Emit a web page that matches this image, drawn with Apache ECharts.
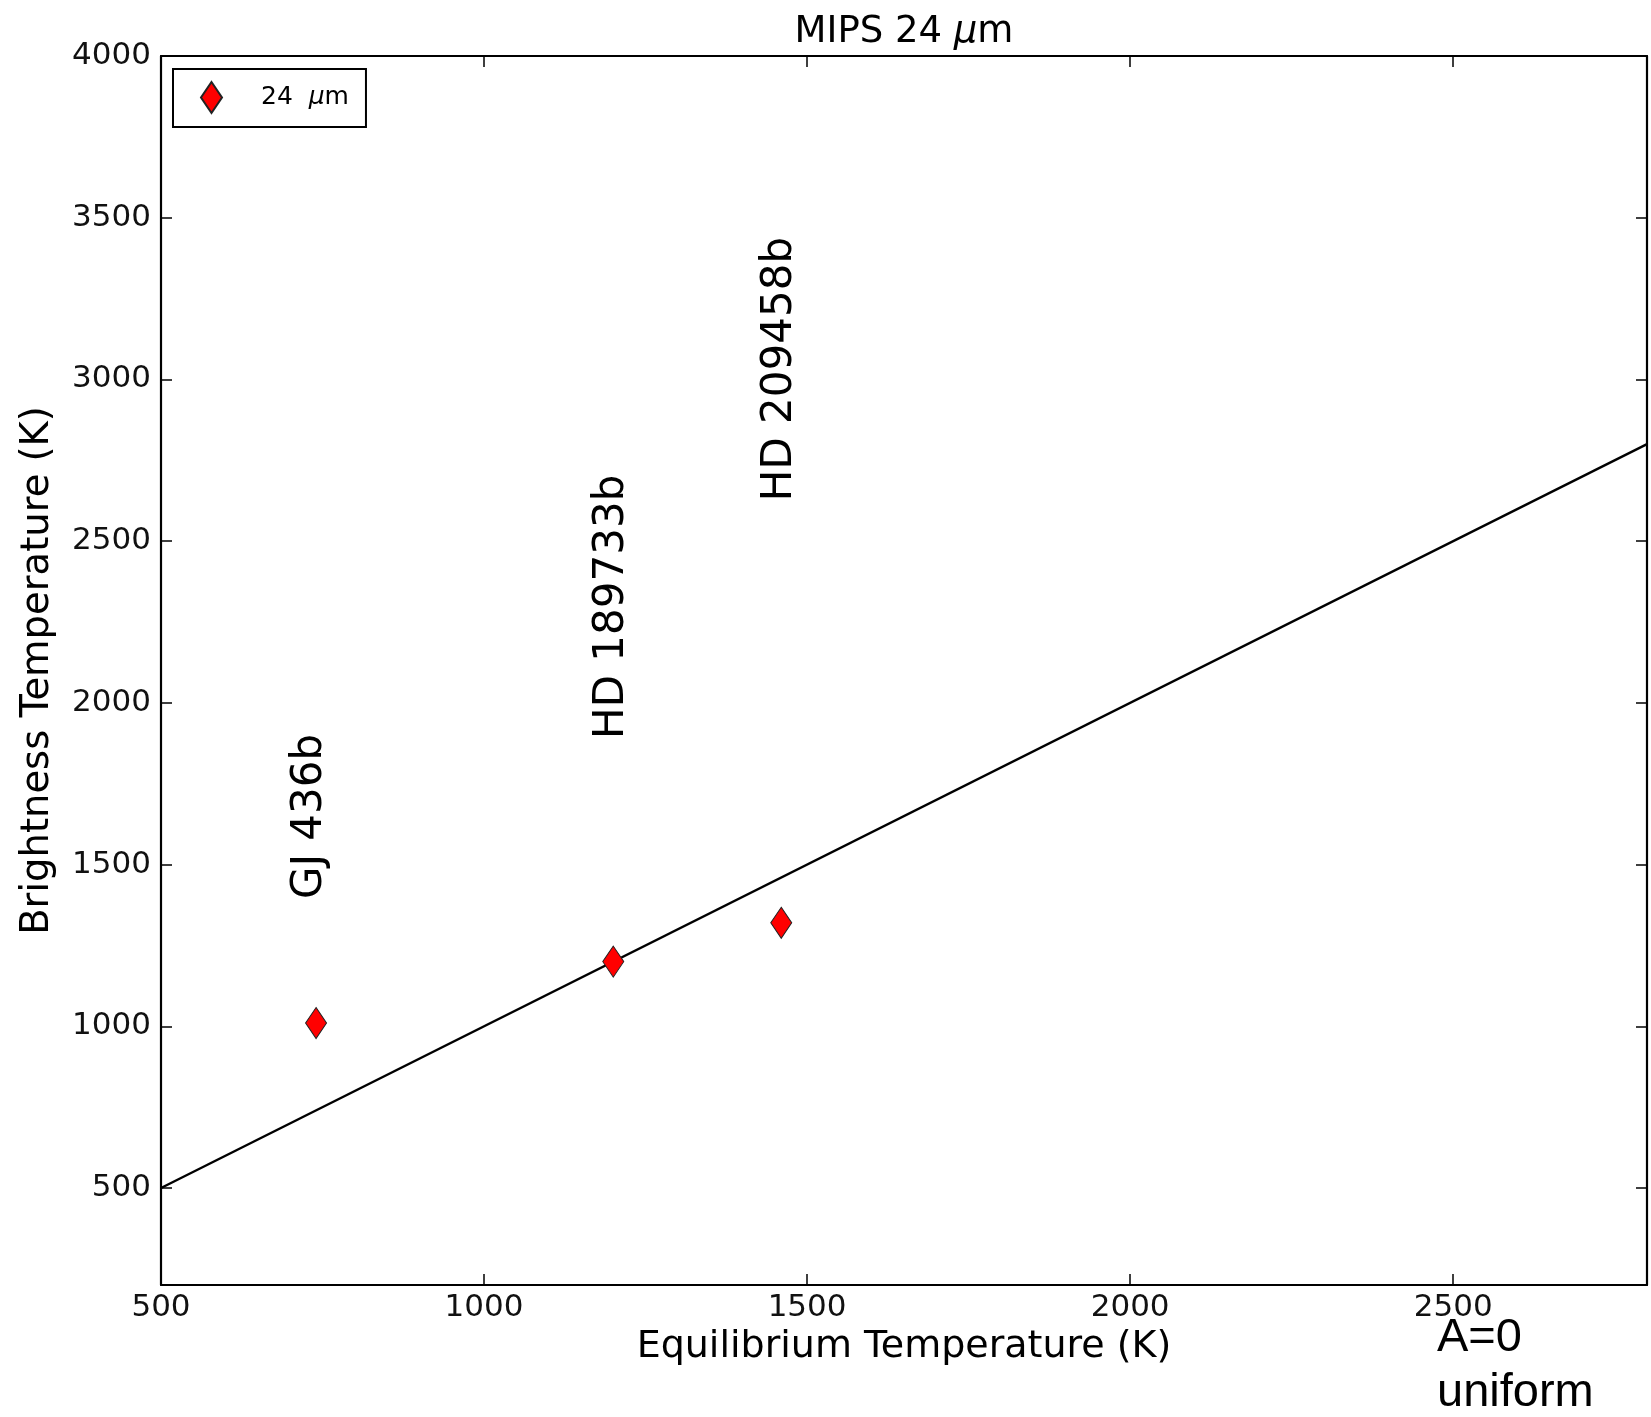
<!DOCTYPE html>
<html>
<head>
<meta charset="utf-8">
<script src="https://cdn.jsdelivr.net/npm/echarts@6/dist/echarts.min.js"></script>
<style>
  html, body { margin: 0; padding: 0; background: #fff; }
  #chart { width: 1651px; height: 1417px; }
</style>
</head>
<body>
<div id="chart"></div>
<script>
// ---- data ----
const planetNames = ['GJ 436b', 'HD 189733b', 'HD 209458b'];
const eqTemp = [740, 1200, 1460];          // Equilibrium temperature (K)
const brightTemp = [1010, 1200, 1320];     // Brightness temperature at 24 um (K)
const labelX = [731, 1198, 1458];          // label anchor (data units)
const labelY = [1649, 2297, 3032];
const lineX = [500, 2800];                 // A=0 uniform line: Tb = Teq
const lineY = [500, 2800];
const xTicks = [500, 1000, 1500, 2000, 2500];
const yTicks = [500, 1000, 1500, 2000, 2500, 3000, 3500, 4000];
const xRange = [500, 2800];
const yRange = [200, 4000];

const FONT = 'DejaVu Sans';
const INK = '#000';

const scatterData = eqTemp.map((x, i) => [x, brightTemp[i]]);
const labelData = labelX.map((x, i) => ({ value: [x, labelY[i]], name: planetNames[i] }));
const lineData = lineX.map((x, i) => [x, lineY[i]]);

const axisCommon = {
  type: 'value',
  axisLine: { show: true, onZero: false, lineStyle: { color: INK, width: 2.2 } },
  splitLine: { show: false },
};
const plain = v => String(v);

const chart = echarts.init(document.getElementById('chart'), null, { renderer: 'canvas' });
chart.setOption({
  backgroundColor: '#fff',
  animation: false,
  title: {
    text: '{n|MIPS 24 }{i|μ}{n|m}',
    left: 904,
    textAlign: 'center',
    top: 14,
    padding: 0,
    textStyle: {
      fontFamily: FONT, fontSize: 37, fontWeight: 'normal', color: INK,
      rich: {
        n: { fontFamily: FONT, fontSize: 37, color: INK },
        i: { fontFamily: FONT, fontSize: 37, color: INK, fontStyle: 'italic' }
      }
    }
  },
  grid: { left: 161, right: 4, top: 56, bottom: 132, containLabel: false },
  legend: {
    data: ['24  μm'],
    left: 173, top: 69,
    orient: 'vertical',
    padding: [12, 17, 13, 27],
    borderColor: INK, borderWidth: 2, borderRadius: 0,
    backgroundColor: '#fff',
    itemWidth: 21, itemHeight: 31,
    selectedMode: false,
    formatter: () => '{g|}24  {i|μ}m',
    textStyle: {
      fontFamily: FONT, fontSize: 25, color: INK,
      rich: {
        g: { width: 34 },
        i: { fontStyle: 'italic', fontFamily: FONT, fontSize: 25, color: INK }
      }
    }
  },
  xAxis: [
    Object.assign({}, axisCommon, {
      min: xRange[0], max: xRange[1], interval: 500,
      position: 'bottom',
      name: 'Equilibrium Temperature (K)',
      nameLocation: 'middle', nameGap: 40,
      nameTextStyle: { fontFamily: FONT, fontSize: 38, color: INK },
      axisTick: { show: true, inside: true, length: 11, customValues: xTicks, lineStyle: { color: INK, width: 1.5 } },
      axisLabel: { show: true, customValues: xTicks, formatter: plain, margin: 7, fontFamily: FONT, fontSize: 31, color: '#111' }
    }),
    Object.assign({}, axisCommon, {
      min: xRange[0], max: xRange[1], interval: 500,
      position: 'top',
      axisTick: { show: true, inside: true, length: 11, customValues: xTicks, lineStyle: { color: INK, width: 1.5 } },
      axisLabel: { show: false }
    })
  ],
  yAxis: [
    Object.assign({}, axisCommon, {
      min: yRange[0], max: yRange[1],
      position: 'left',
      name: 'Brightness Temperature (K)',
      nameLocation: 'middle', nameGap: 104, nameRotate: 90,
      nameTextStyle: { fontFamily: FONT, fontSize: 38.5, color: INK },
      axisTick: { show: true, inside: true, length: 11, customValues: yTicks, lineStyle: { color: INK, width: 1.5 } },
      axisLabel: { show: true, customValues: yTicks, formatter: plain, margin: 10, fontFamily: FONT, fontSize: 31, color: '#111' }
    }),
    Object.assign({}, axisCommon, {
      min: yRange[0], max: yRange[1],
      position: 'right',
      axisTick: { show: true, inside: true, length: 11, customValues: yTicks, lineStyle: { color: INK, width: 1.5 } },
      axisLabel: { show: false }
    })
  ],
  series: [
    {
      name: 'model',
      type: 'line',
      data: lineData,
      showSymbol: false,
      symbol: 'none',
      lineStyle: { color: INK, width: 2.4 },
      z: 2
    },
    {
      name: '24  μm',
      type: 'scatter',
      data: scatterData,
      symbol: 'diamond',
      symbolSize: [21, 31],
      itemStyle: { color: '#ff0000', borderColor: '#222', borderWidth: 1, opacity: 1 },
      z: 5
    },
    {
      name: 'labels',
      type: 'scatter',
      data: labelData,
      symbolSize: 0,
      itemStyle: { color: '#000', opacity: 1 },
      label: {
        show: true,
        position: 'inside',
        rotate: 90,
        align: 'center',
        verticalAlign: 'middle',
        formatter: p => p.name,
        fontFamily: FONT, fontSize: 42, color: '#000',
        textBorderWidth: 0, opacity: 1
      },
      z: 4
    }
  ],
  graphic: [
    {
      type: 'text',
      left: 1437, top: 1311,
      style: {
        text: 'A=0\nuniform',
        fontFamily: 'Liberation Sans', fontSize: 47, lineHeight: 55,
        fill: INK
      }
    }
  ]
});
</script>
</body>
</html>
